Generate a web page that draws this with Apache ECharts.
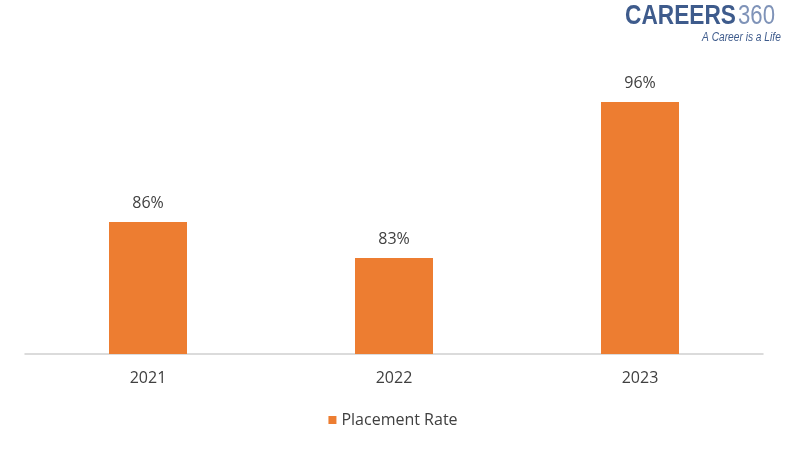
<!DOCTYPE html>
<html><head><meta charset="utf-8">
<script src="https://cdn.jsdelivr.net/npm/echarts@6/dist/echarts.min.js"></script>
<style>html,body{margin:0;padding:0;background:#fff}#c{width:786px;height:453px}</style>
</head><body><div id="c"></div>
<script>
const categories = ['2021', '2022', '2023'];
const placementRate = [86, 83, 96];
const seriesName = 'Placement Rate';

const chart = echarts.init(document.getElementById('c'));
chart.setOption({
  animation: false,
  backgroundColor: '#fff',
  grid: { left: 25, right: 23, top: 54, bottom: 99 },
  xAxis: {
    type: 'category', data: categories,
    axisLine: { lineStyle: { color: '#d0d0d0', width: 1.5 } },
    axisTick: { show: false },
    axisLabel: { color: '#404040', fontSize: 16, fontFamily: 'Open Sans', margin: 16 }
  },
  yAxis: { type: 'value', min: 75, max: 100, show: false, splitLine: { show: false } },
  legend: {
    bottom: 20, left: 'center', itemWidth: 8, itemHeight: 8, itemGap: 5,
    icon: 'rect',
    textStyle: { color: '#404040', fontSize: 16, fontFamily: 'Open Sans' },
    data: [seriesName]
  },
  series: [{
    name: seriesName, type: 'bar', data: placementRate, barWidth: 78,
    itemStyle: { color: '#ED7D31' },
    label: { show: true, position: 'top', distance: 11, formatter: '{c}%',
      color: '#404040', fontSize: 16, fontFamily: 'Open Sans' }
  }],
  graphic: [
    { type: 'text', x: 625, y: 3, scaleX: 0.84, style: { x: 0, y: 0, text: 'CAREERS', font: 'bold 27px "Liberation Sans"', fill: '#3e5b8c', textVerticalAlign: 'top' } },
    { type: 'text', x: 738, y: 3, scaleX: 0.82, style: { x: 0, y: 0, text: '360', font: '27px "Liberation Sans"', fill: '#7f93b8', textVerticalAlign: 'top' } },
    { type: 'text', x: 702, y: 32, scaleX: 0.85, style: { x: 0, y: 0, text: 'A Career is a Life', font: 'italic 12px "Liberation Sans"', fill: '#3e5b8c', textVerticalAlign: 'top' } }
  ]
});
</script></body></html>
